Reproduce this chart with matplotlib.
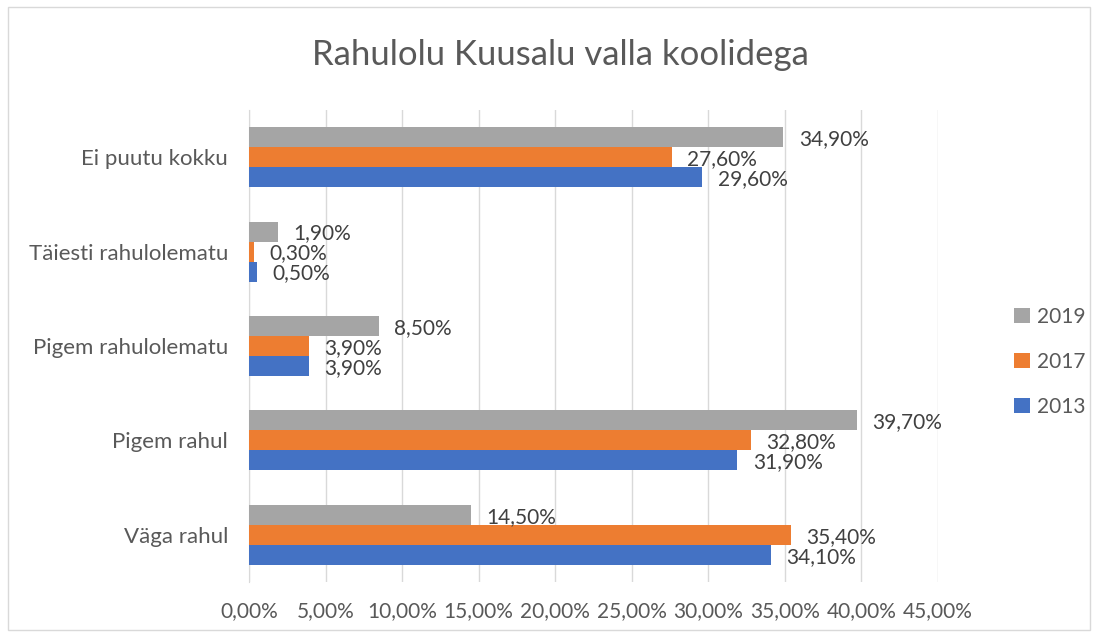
import matplotlib.pyplot as plt
import numpy as np
from matplotlib.patches import Rectangle
from matplotlib.ticker import FuncFormatter

plt.rcParams["font.family"] = ["Lato", "DejaVu Sans"]

CATEGORIES = ["Väga rahul", "Pigem rahul", "Pigem rahulolematu", "Täiesti rahulolematu", "Ei puutu kokku"]
YEARS = ["2019", "2017", "2013"]
VALUES = {
    "2019": [14.5, 39.7, 8.5, 1.9, 34.9],
    "2017": [35.4, 32.8, 3.9, 0.3, 27.6],
    "2013": [34.1, 31.9, 3.9, 0.5, 29.6],
}
COLORS = {"2019": "#A5A5A5", "2017": "#ED7D31", "2013": "#4472C4"}


def pct(value):
    return f"{value:.2f}%".replace(".", ",")


fig = plt.figure(figsize=(10.98, 6.37), dpi=100)
ax = fig.add_axes([249 / 1098, 1 - 582 / 637, (938 - 249) / 1098, (582 - 110) / 637])

y = np.arange(len(CATEGORIES))
height = 0.212
offsets = {"2019": height, "2017": 0.0, "2013": -height}
for year in YEARS:
    vals = VALUES[year]
    ax.barh(y + offsets[year], vals, height=height, color=COLORS[year], label=year, zorder=3)
    for yi, v in zip(y, vals):
        ax.text(v + 1.0, yi + offsets[year] - 0.02, pct(v), va="center", ha="left",
                fontsize=15, color="#404040", zorder=4)

ax.set_xlim(0, 45)
ax.set_ylim(-0.5, len(CATEGORIES) - 0.5)
ax.set_xticks(np.arange(0, 46, 5))
ax.xaxis.set_major_formatter(FuncFormatter(lambda v, _: pct(v)))
ax.set_yticks(y)
ax.set_yticklabels(CATEGORIES)
ax.tick_params(axis="y", length=0, labelsize=16, colors="#595959", pad=15)
ax.tick_params(axis="x", length=0, labelsize=15, labelcolor="#595959", pad=14)
ax.grid(axis="x", color="#D9D9D9", linewidth=1, zorder=0)
for side in ["top", "right", "bottom"]:
    ax.spines[side].set_visible(False)
ax.spines["left"].set_color("#D9D9D9")

fig.text(560 / 1098, 1 - 55 / 637, "Rahulolu Kuusalu valla koolidega", ha="center", va="center",
         fontsize=25, color="#595959")

handles, labels = ax.get_legend_handles_labels()
fig.legend(handles, labels, loc="center left", bbox_to_anchor=(1014 / 1098, 1 - 362 / 637),
           frameon=False, fontsize=15, handlelength=0.75, handleheight=0.75, borderpad=0,
           borderaxespad=0, handletextpad=0.35, labelspacing=1.2, labelcolor="#595959")

fig.patches.append(Rectangle((8 / 1098, 7 / 637), 1082 / 1098, 623 / 637, transform=fig.transFigure,
                             fill=False, edgecolor="#D9D9D9", linewidth=1))

fig.savefig("out.png", dpi=100)
